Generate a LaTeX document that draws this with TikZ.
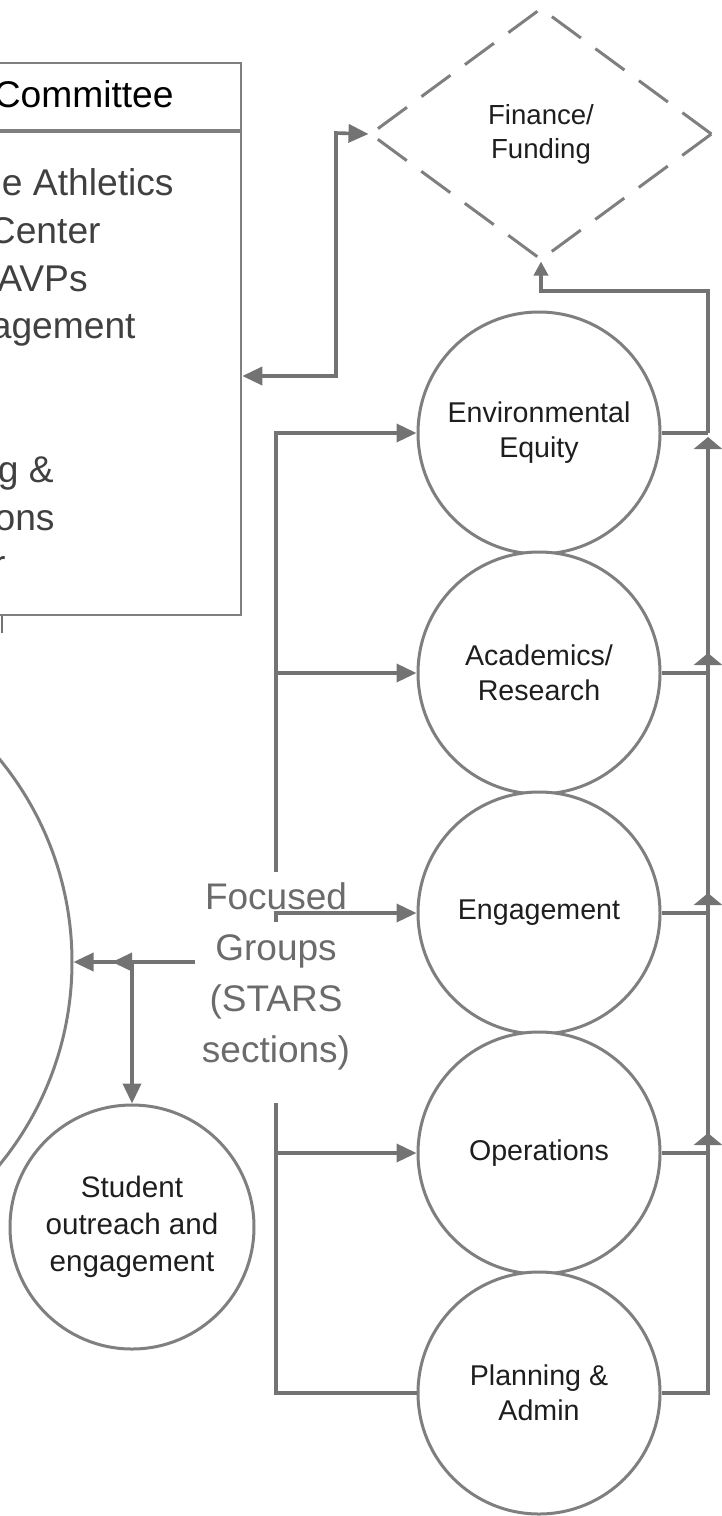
\documentclass[tikz,border=0pt]{standalone}
\usepackage{fontspec}
\setmainfont{Liberation Sans}
\usetikzlibrary{arrows.meta,calc,shapes.geometric}
\definecolor{LinkGray}{HTML}{737373}
\definecolor{RingGray}{HTML}{7F7F7F}
\definecolor{InkDark}{HTML}{1E1E1E}
\definecolor{LabelGray}{HTML}{6B6B6B}

\begin{document}
\begin{tikzpicture}[
    x=0.5pt, y=-0.5pt,
    >={Triangle[length=10pt,width=9pt]},
    area/.style={circle,draw=RingGray,fill=white,line width=1.5pt,minimum size=121pt,inner sep=0pt,align=center,text=InkDark,font=\fontsize{14.3}{17.5}\selectfont},
    link/.style={line width=1.8pt,draw=LinkGray},
    arr/.style={link,->},
    uparr/.style={link,-{Triangle[length=6pt,width=14pt]}},
    cell/.style={inner sep=0pt,anchor=base east,text=InkDark!85!white,font=\fontsize{18.6}{24}\selectfont}
  ]
  \useasboundingbox (0,0) rectangle (722,1516);
  \clip (0,0) rectangle (722,1516);

  % committee box, cut off at the left
  \node[draw=RingGray,line width=1.3pt,minimum width=270.5pt,minimum height=276pt,inner sep=0pt] (cttee) at (-29.5,339) {};
  \draw[draw=RingGray,line width=1.8pt] ($(cttee.north west)+(0,69)$) -- ($(cttee.north east)+(0,69)$);
  \node[cell,text=black] (title) at (174,107) {Committee};
  \node[cell] (row1) at (174,195) {e Athletics};
  \node[cell] (row2) at (101,243) {Center};
  \node[cell] (row3) at (88,291) {AVPs};
  \node[cell] (row4) at (136,338) {agement};
  \node[cell] (row7) at (54,482) {g \&};
  \node[cell] (row8) at (55,530) {ons};
  \node[cell] (row9) at (6,576) {r};

  \node[diamond,draw=RingGray,line width=1.5pt,dash pattern=on 18pt off 9pt,minimum width=171pt,minimum height=126pt,inner sep=0pt,align=center,text=InkDark,font=\fontsize{13.8}{17}\selectfont] (fin) at (541,134) {Finance/\\Funding};

  \node[circle,draw=RingGray,line width=1.5pt,minimum size=320pt] (hub) at (-248,962) {};
  \node[area,minimum size=122pt,font=\fontsize{14.8}{18.5}\selectfont] (student) at (132,1227) {Student\\outreach and\\engagement};

  \node[area] (env) at (539,433) {Environmental\\Equity};
  \node[area] (acad) at (539,673) {Academics/\\Research};
  \node[area] (eng) at (539,913) {Engagement};
  \node[area] (ops) at (539,1153) {Operations};
  \node[area] (plan) at (539,1393) {Planning \&\\Admin};

  \node[inner sep=0pt,align=center,text=LabelGray,font=\fontsize{18.5}{25.5}\selectfont] (fg) at (276,976) {Focused\\Groups\\(STARS\\sections)};

  \coordinate (fgout) at (195,962);
  \coordinate (split) at (132,962);
  \coordinate (trunktop) at (276,872);
  \coordinate (trunkeng) at (276,913);
  \coordinate (trunkbot) at (276,1103);
  \coordinate (finin) at (336,133);
  \coordinate (bustop) at (708,291);
  \coordinate (tick) at (2,633);

  % left trunk into the sections
  \draw[arr] (trunktop) |- (env.west);
  \draw[arr] (acad.west -| trunktop) -- (acad.west);
  \draw[arr] ($(trunkeng)+(0,9)$) -- (trunkeng) -- (eng.west);
  \draw[link] (trunkbot) |- (plan.west);
  \draw[arr] (ops.west -| trunkbot) -- (ops.west);

  % right bus up to funding
  \foreach \a/\b/\d in {plan/ops/-20,ops/eng/-20,eng/acad/-20,acad/env/4}
    \draw[uparr] (\a.east) -- (\a.east -| bustop) -- ($(\b.east -| bustop)+(0,\d)$);
  \draw[link] (env.east) -- (env.east -| bustop);
  \draw[link,-{Triangle[length=7pt,width=7pt]}] (env.east -| bustop) -- (bustop) -| (fin.south);

  \draw[link,<->] ($(cttee.east)+(0,37)$) -| (finin) -- (fin.west);
  \draw[link,line width=1.3pt] (cttee.south -| tick) -- (tick);

  % focused groups out to the left
  \draw[arr] (fgout) -- ([xshift=-10pt]split);
  \draw[arr] (split) -- (hub.east);
  \draw[arr] (split) -- (student.north);
\end{tikzpicture}
\end{document}
